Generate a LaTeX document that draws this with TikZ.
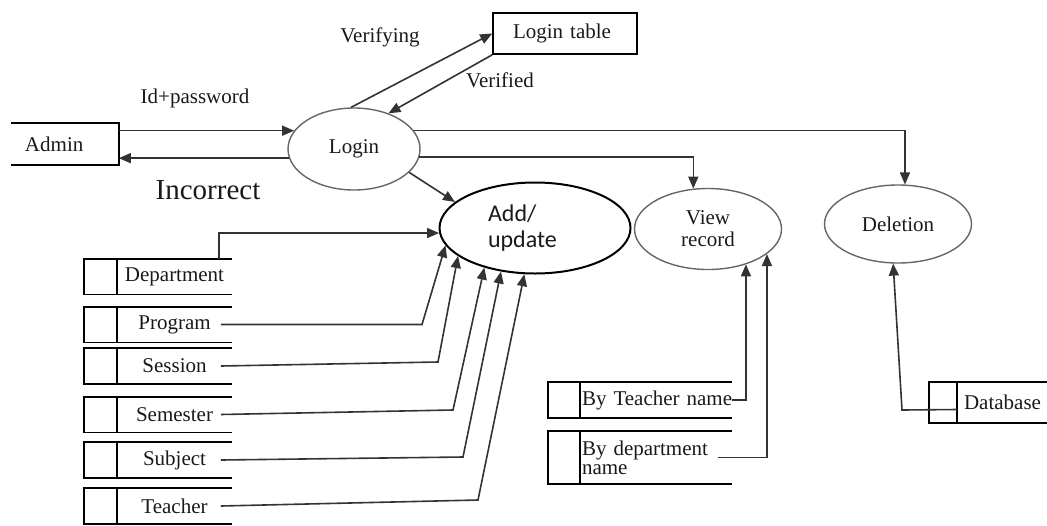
\documentclass[tikz,border=0pt]{standalone}
\usepackage{fontspec}
\setmainfont{Liberation Serif}
\newfontfamily\calfont{Carlito}
\usetikzlibrary{arrows.meta,shapes.geometric}

\begin{document}
\begin{tikzpicture}[x=0.5pt,y=0.5pt,line width=0.8pt,
  every node/.style={font=\fontsize{10.5}{11}\selectfont,text=black!90},
  proc/.style={ellipse,draw=black!60,line width=0.7pt,inner sep=0pt},
  ent/.style={inner sep=1pt},
  store/.style={inner sep=1pt,minimum height=17pt},
  flow/.style={draw=black!80,-{Triangle[length=6pt,width=5pt]}}]
\useasboundingbox (0,0) rectangle (1047,-525);

% entities
\node[ent,minimum width=53pt,minimum height=20pt,text width=40pt,inner xsep=6.5pt,align=left] (admin) at (65,-144) {Admin};
\draw (admin.north west) -- (admin.north east) -- (admin.south east) -- (admin.south west);
\node[ent,draw,minimum width=72pt,minimum height=20.5pt,text width=52pt,inner xsep=10pt,align=left] (logtab) at (565,-33.5) {Login table};

% processes
\node[proc,minimum width=66pt,minimum height=41pt] (login) at (354,-149) {Login};
\node[proc,draw=black,line width=1pt,minimum width=95.5pt,minimum height=45.5pt,text width=47pt,
  font=\calfont\fontsize{12}{13}\selectfont,align=left] (addupd) at (535,-228) {Add/\\update};
\node[proc,minimum width=73.5pt,minimum height=40.5pt,align=center] (view) at (708,-229) {View\\record};
\node[proc,minimum width=73.5pt,minimum height=39pt] (del) at (898,-224) {Deletion};

% labels
\node (idpw) at (195,-98) {Id+password};
\node (verifying) at (380,-37) {Verifying};
\node (verified) at (500,-80) {Verified};
\node[font=\fontsize{14.5}{16}\selectfont] (incorrect) at (208,-190) {Incorrect};

% data stores
\node[store,minimum width=56.5pt] (dept) at (174.5,-276.5) {Department};
\draw (dept.north east) -- ++(-148,0) |- (dept.south east);
\draw (dept.north west) -- (dept.south west);

\node[store,minimum width=56.5pt] (prog) at (174.5,-324.5) {Program};
\draw (prog.north east) -- ++(-148,0) |- (prog.south east);
\draw (prog.north west) -- (prog.south west);

\node[store,minimum width=56.5pt] (sess) at (174.5,-366) {Session};
\draw (sess.north east) -- ++(-148,0) |- (sess.south east);
\draw (sess.north west) -- (sess.south west);

\node[store,minimum width=56.5pt] (sem) at (174.5,-414.5) {Semester};
\draw (sem.north east) -- ++(-148,0) |- (sem.south east);
\draw (sem.north west) -- (sem.south west);

\node[store,minimum width=56.5pt] (subj) at (174.5,-460) {Subject};
\draw (subj.north east) -- ++(-148,0) |- (subj.south east);
\draw (subj.north west) -- (subj.south west);

\node[store,minimum width=56.5pt] (teach) at (174.5,-506) {Teacher};
\draw (teach.north east) -- ++(-148,0) |- (teach.south east);
\draw (teach.north west) -- (teach.south west);

\node[store,text width=74pt,inner xsep=0.5pt,align=left] (bytch) at (656,-400) {\mbox{By Teacher name}};
\draw (bytch.north east) -- ++(-184,0) |- (bytch.south east);
\draw (bytch.north west) -- (bytch.south west);

\node[store,text width=74pt,inner xsep=0.5pt,align=left,minimum height=25.5pt,
  font=\fontsize{10.5}{9.5}\selectfont] (bydep) at (656,-457.5) {By department\\name};
\draw (bydep.north east) -- ++(-184,0) |- (bydep.south east);
\draw (bydep.north west) -- (bydep.south west);

\node[store,minimum width=44.5pt,minimum height=19.5pt] (db) at (1002.5,-402.5) {Database};
\draw (db.north east) -- ++(-119,0) |- (db.south east);
\draw (db.north west) -- (db.south west);

% flows
\draw[flow] (admin.east |- login.163) -- (login.163);
\draw[flow] (login.188) -- (admin.east |- login.188);
\draw[flow] (login.94) -- (logtab.west);
\draw[flow] (logtab.south west) -- (login.46);
\draw[flow] (login.17) -| (del.80);
\draw[flow] (login.-7) -| (view.110);
\draw[flow] (login.-23) -- (addupd.162);

\draw[flow] ([xshift=-6.5pt]dept.north east) |- (addupd.183);
\draw[flow] ([xshift=-5.5pt]prog.east) -- (422,-324.5) -- (addupd.191);
\draw[flow] ([xshift=-5.5pt]sess.east) -- (438,-362) -- (addupd.200);
\draw[flow] ([xshift=-5.5pt]sem.east) -- (453,-410) -- (addupd.218);
\draw[flow] ([xshift=-5.5pt]subj.east) -- (463,-457) -- (addupd.232);
\draw[flow] ([xshift=-5.5pt]teach.east) -- (478,-500) -- (addupd.257);

\draw[flow] (bytch.east) -| (view.-43);
\draw[flow] ([xshift=-7pt]bydep.east) -| (view.-23);
\draw[flow] ([yshift=-3.5pt]db.west) -- (902,-410) -- (del.-97);

\end{tikzpicture}
\end{document}
